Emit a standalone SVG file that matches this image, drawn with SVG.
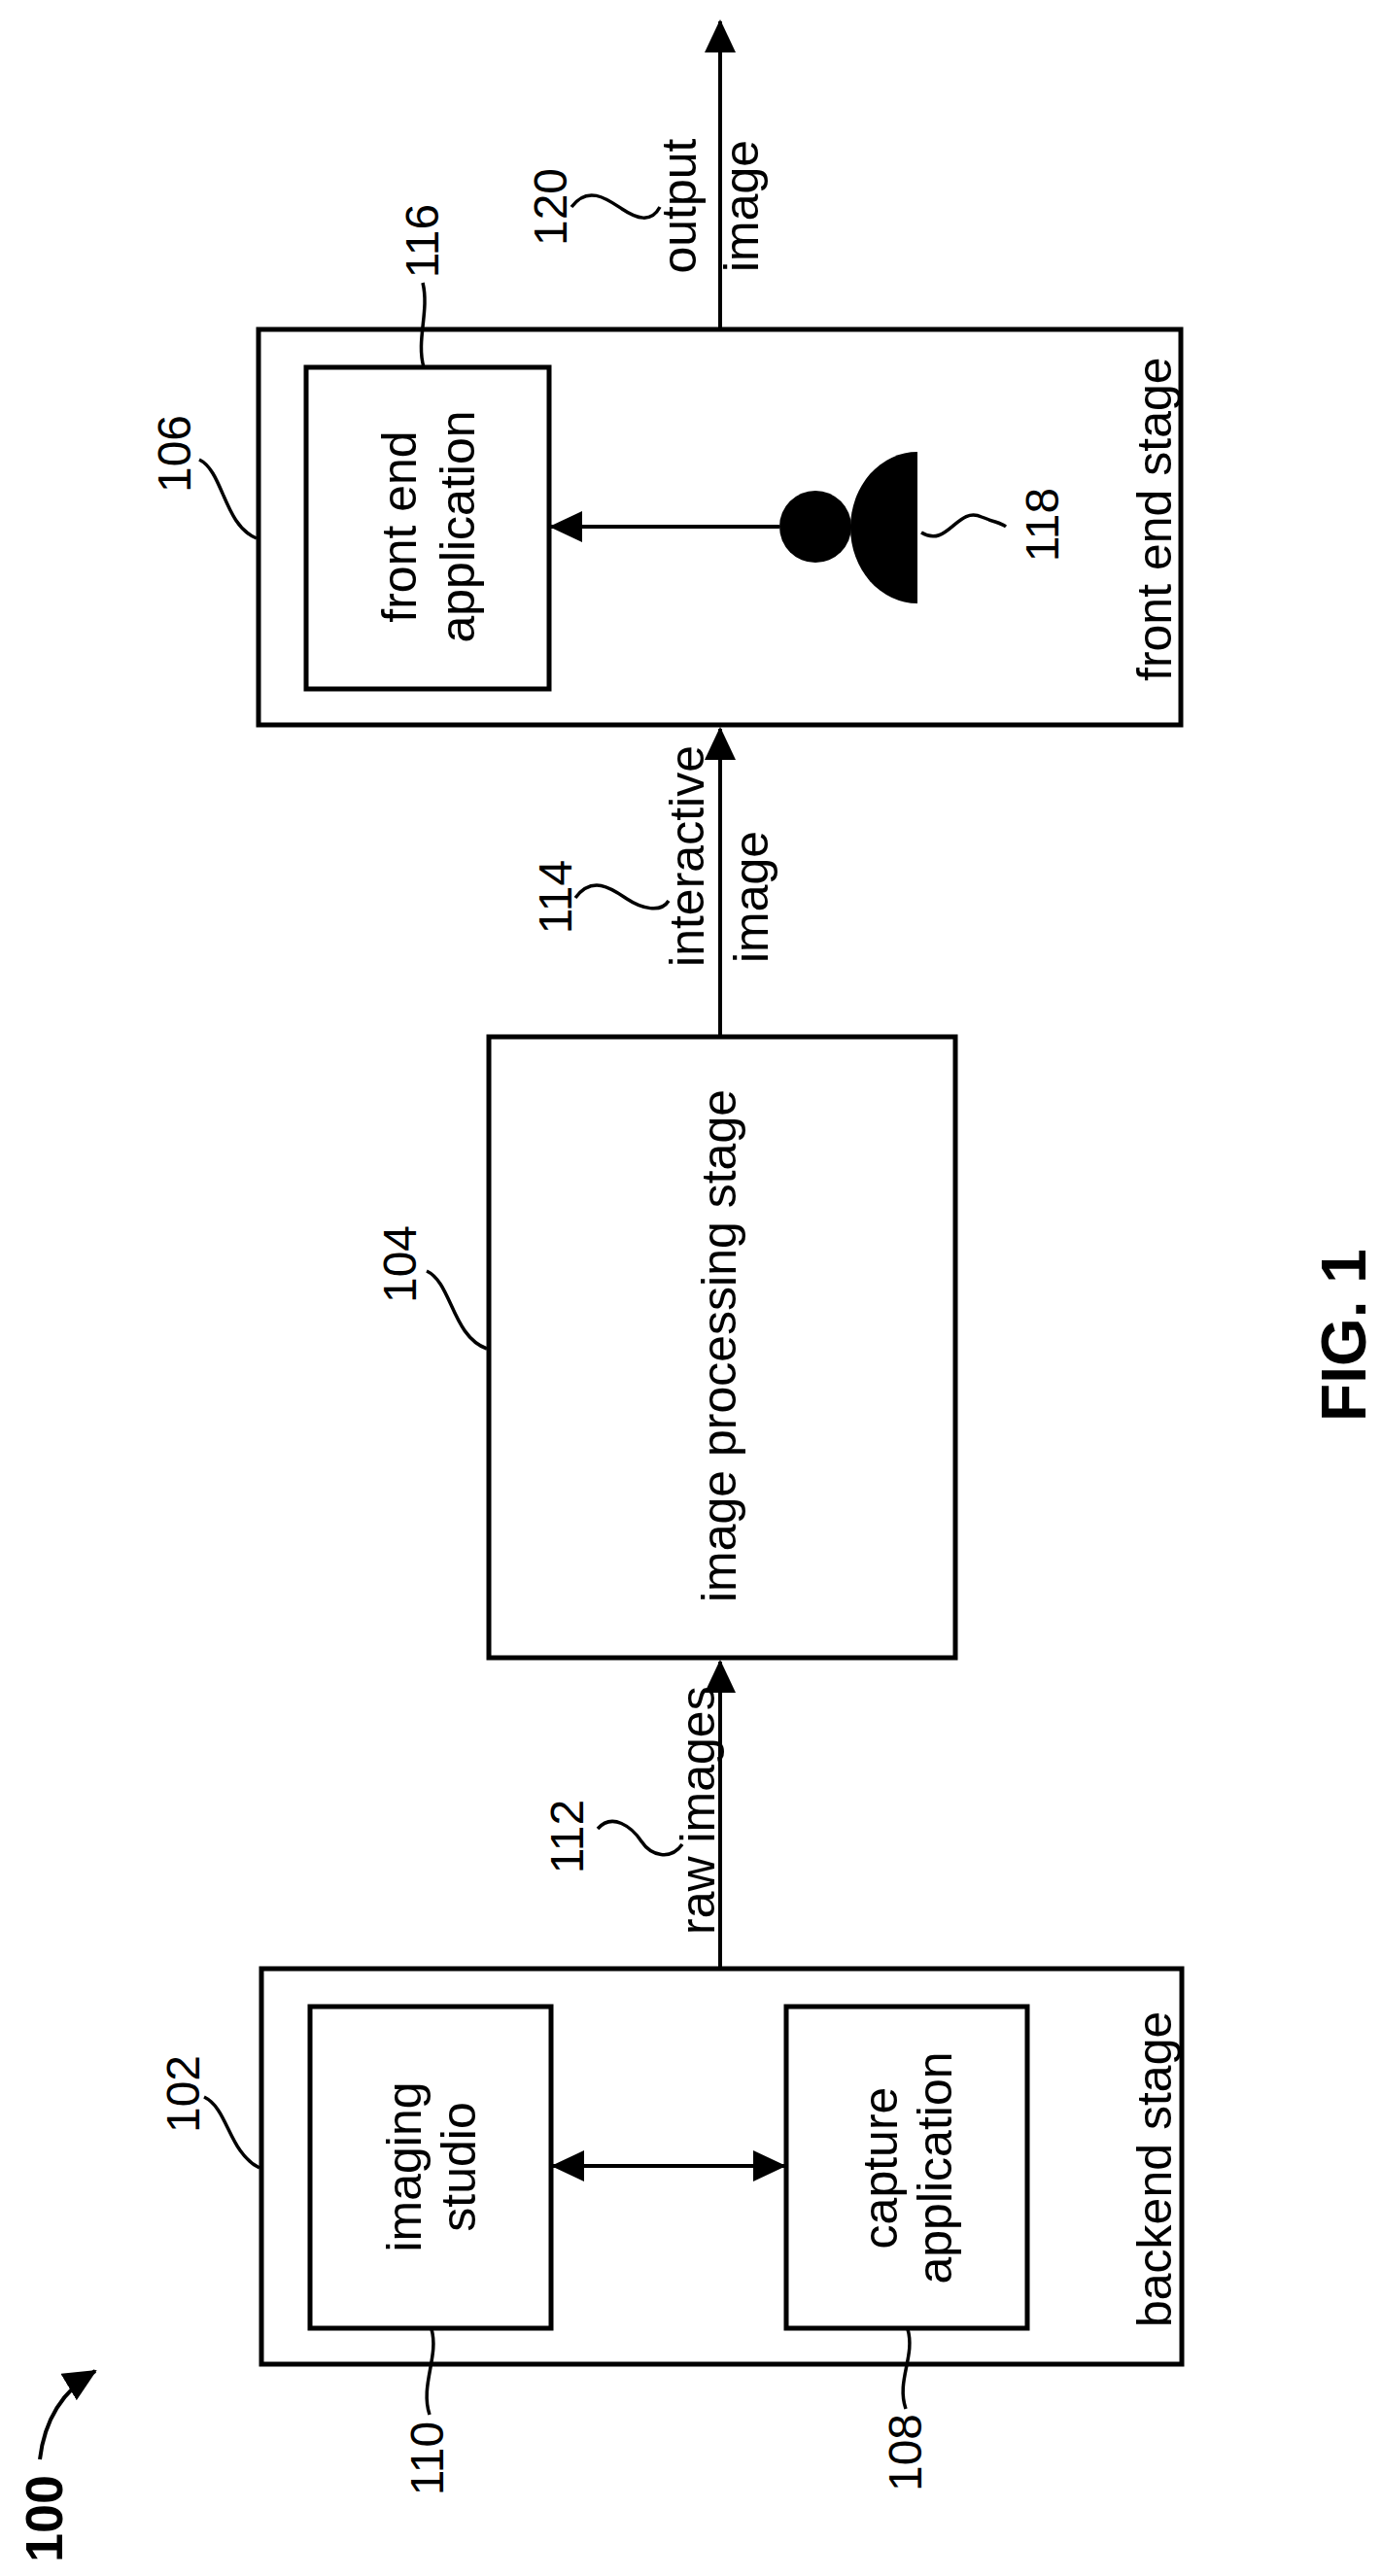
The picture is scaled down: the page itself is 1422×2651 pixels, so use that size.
<svg xmlns="http://www.w3.org/2000/svg" width="1422" height="2651" viewBox="0 0 1422 2651">
<style>
.box{fill:none;stroke:#000;stroke-width:5}
.ln{fill:none;stroke:#000;stroke-width:4}
.lead{fill:none;stroke:#000;stroke-width:3.5}
text{font-family:"Liberation Sans",Arial,sans-serif;font-size:50px;fill:#000}
.num{font-size:48px}
.b{font-weight:bold}
</style>
<defs>
<marker id="ah" markerUnits="userSpaceOnUse" markerWidth="34" markerHeight="32" refX="32" refY="16" orient="auto-start-reverse" viewBox="0 0 34 32">
<path d="M0,0 L34,16 L0,32 Z" fill="#000"/>
</marker>
</defs>
<rect width="1422" height="2651" fill="#fff"/>

<g id="n102">
<rect class="box" x="269" y="2026" width="947" height="407"/>
<text transform="translate(1205,2395) rotate(-90)">backend stage</text>
<text class="num" transform="translate(205,2155) rotate(-90)" text-anchor="middle">102</text>
<path class="lead" d="M210,2158 C235,2170 235,2215 267,2231"/>
</g>
<g id="n110">
<rect class="box" x="319" y="2065" width="248" height="331"/>
<text transform="translate(433,2230) rotate(-90)" text-anchor="middle">imaging</text>
<text transform="translate(489,2230) rotate(-90)" text-anchor="middle">studio</text>
<text class="num" transform="translate(456,2530) rotate(-90)" text-anchor="middle">110</text>
<path class="lead" d="M444,2397 C452,2425 432,2455 442,2485"/>
</g>
<g id="n108">
<rect class="box" x="809" y="2065" width="248" height="331"/>
<text transform="translate(923,2231) rotate(-90)" text-anchor="middle">capture</text>
<text transform="translate(979,2231) rotate(-90)" text-anchor="middle">application</text>
<text class="num" transform="translate(948,2524) rotate(-90)" text-anchor="middle">108</text>
<path class="lead" d="M934,2397 C942,2425 922,2450 932,2479"/>
</g>
<g id="n104">
<rect class="box" x="503" y="1067" width="480" height="639"/>
<text transform="translate(757,1385) rotate(-90)" text-anchor="middle">image processing stage</text>
<text class="num" transform="translate(428,1301) rotate(-90)" text-anchor="middle">104</text>
<path class="lead" d="M439,1308 C465,1320 465,1375 501,1388"/>
</g>
<g id="n106">
<rect class="box" x="266" y="339" width="949" height="407"/>
<text transform="translate(1205,701) rotate(-90)">front end stage</text>
<text class="num" transform="translate(196,467) rotate(-90)" text-anchor="middle">106</text>
<path class="lead" d="M205,473 C230,485 230,540 264,554"/>
</g>
<g id="n116">
<rect class="box" x="315" y="378" width="250" height="331"/>
<text transform="translate(428,542) rotate(-90)" text-anchor="middle">front end</text>
<text transform="translate(488,542) rotate(-90)" text-anchor="middle">application</text>
<text class="num" transform="translate(451,248) rotate(-90)" text-anchor="middle">116</text>
<path class="lead" d="M435,291 C442,320 428,350 436,378"/>
</g>
<g id="n118">
<circle cx="839" cy="542" r="37" fill="#000"/>
<path d="M944,465 A69,78 0 0 0 944,621 Z" fill="#000"/>
<text class="num" transform="translate(1089,540) rotate(-90)" text-anchor="middle">118</text>
<path class="lead" d="M948,548 C975,565 985,520 1010,532 C1025,538 1030,538 1035,542"/>
</g>
<g id="labels">
<text transform="translate(716,212) rotate(-90)" text-anchor="middle">output</text>
<text transform="translate(780,212) rotate(-90)" text-anchor="middle">image</text>
<text class="num" transform="translate(583,213) rotate(-90)" text-anchor="middle">120</text>
<path class="lead" d="M588,213 C605,190 625,205 640,215 C655,225 670,230 679,213"/>
<text transform="translate(724,881) rotate(-90)" text-anchor="middle">interactive</text>
<text transform="translate(790,923) rotate(-90)" text-anchor="middle">image</text>
<text class="num" transform="translate(588,923) rotate(-90)" text-anchor="middle">114</text>
<path class="lead" d="M592,924 C610,900 630,915 645,925 C660,935 680,940 688,927"/>
<text transform="translate(735,1991) rotate(-90)">raw images</text>
<text class="num" transform="translate(600,1890) rotate(-90)" text-anchor="middle">112</text>
<path class="lead" d="M615,1882 C630,1865 650,1880 660,1895 C670,1910 690,1915 702,1898"/>
<text class="b" transform="translate(1405,1374) rotate(-90)" text-anchor="middle" style="font-size:64px">FIG. 1</text>
<text class="b" transform="translate(64,2592) rotate(-90)" text-anchor="middle" style="font-size:54px">100</text>
</g>
<g id="connectors">
<line class="ln" x1="741" y1="339" x2="741" y2="22" marker-end="url(#ah)"/>
<line class="ln" x1="741" y1="1067" x2="741" y2="750" marker-end="url(#ah)"/>
<line class="ln" x1="741" y1="2026" x2="741" y2="1710" marker-end="url(#ah)"/>
<line class="ln" x1="802" y1="542" x2="567" y2="542" marker-end="url(#ah)"/>
<line class="ln" x1="569" y1="2229" x2="807" y2="2229" marker-start="url(#ah)" marker-end="url(#ah)"/>
<path class="ln" d="M41,2531 Q48,2470 98,2440" marker-end="url(#ah)"/>
</g>
</svg>
